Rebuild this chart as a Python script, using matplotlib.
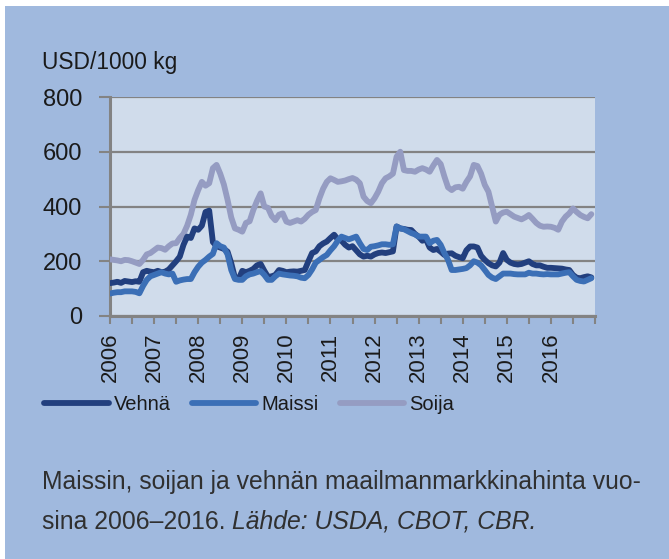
import matplotlib
matplotlib.use("Agg")
import matplotlib.pyplot as plt
from matplotlib.patches import Rectangle
import numpy as np

plt.rcParams['font.family'] = ['Liberation Sans', 'DejaVu Sans']

years = [str(y) for y in range(2006, 2017)]

vehna = [120, 122, 125, 121, 128, 126, 124, 127, 125, 160, 165, 162, 160, 165, 160, 162, 170,
         185, 200, 217, 260, 290, 285, 320, 315, 330, 380, 385, 270, 255, 250, 245, 235, 193,
         140, 135, 165, 160, 165, 172, 185, 190, 165, 143, 145, 150, 168, 165, 160, 162, 163,
         162, 165, 168, 200, 230, 236, 255, 265, 272, 285, 297, 280, 275, 260, 250, 255, 240,
         225, 217, 220, 217, 225, 230, 232, 230, 233, 236, 327, 320, 318, 315, 314, 300, 290,
         275, 280, 250, 241, 245, 235, 223, 228, 229, 220, 215, 211, 240, 254, 254, 250, 220,
         205, 193, 185, 181, 195, 230, 205, 195, 190, 188, 190, 195, 200, 190, 185, 185, 180,
         176, 176, 175, 174, 173, 170, 168, 150, 140, 138, 142, 145, 141]

maissi = [82, 85, 87, 87, 90, 90, 90, 88, 83, 110, 132, 145, 150, 155, 160, 155, 152, 155,
          125, 130, 133, 135, 135, 160, 180, 195, 205, 217, 227, 266, 255, 250, 225, 168, 135,
          132, 132, 145, 152, 155, 160, 164, 150, 132, 132, 145, 155, 152, 150, 148, 147, 145,
          140, 138, 150, 170, 195, 205, 215, 223, 240, 255, 275, 290, 285, 280, 285, 290, 266,
          245, 241, 253, 255, 258, 262, 262, 260, 262, 327, 320, 317, 310, 303, 298, 290, 290,
          290, 266, 275, 278, 260, 230, 205, 168, 168, 170, 172, 175, 185, 200, 195, 185, 168,
          150, 140, 135, 145, 155, 155, 155, 153, 152, 152, 152, 158, 155, 155, 153, 152, 153,
          152, 152, 152, 155, 158, 160, 145, 132, 128, 126, 132, 138]

soija = [207, 205, 203, 200, 205, 204, 200, 195, 190, 205, 225, 230, 240, 250, 248, 242, 255,
         265, 266, 285, 300, 330, 370, 424, 460, 490, 476, 485, 540, 552, 520, 480, 424, 360,
         320, 315, 308, 340, 346, 387, 420, 448, 400, 395, 365, 350, 370, 375, 345, 340, 345,
         350, 345, 355, 370, 380, 387, 430, 465, 490, 503, 497, 490, 492, 495, 500, 504, 498,
         485, 436, 420, 412, 430, 454, 485, 503, 510, 520, 582, 600, 533, 530, 530, 527, 535,
         540, 535, 527, 550, 570, 555, 510, 470, 460, 470, 472, 465, 490, 510, 552, 548, 520,
         479, 454, 400, 345, 370, 378, 381, 372, 363, 358, 353, 360, 369, 355, 340, 330, 326,
         327, 326, 322, 315, 345, 363, 375, 393, 380, 369, 362, 357, 372]

series_names = ['Vehnä', 'Maissi', 'Soija']
colors = ['#223F7E', '#3B6FB6', '#959CC2']

bg = '#A0B9DE'
plot_bg = '#D0DCEB'
grid_c = '#838383'
txt_c = '#1a1a1a'
cap_c = '#303030'

fig = plt.figure(figsize=(6.69, 5.59), dpi=100, facecolor=bg)
fig.patches.append(Rectangle((0, 1 - 6 / 559), 1, 6 / 559, transform=fig.transFigure,
                             facecolor='white', edgecolor='none', zorder=0))
fig.patches.append(Rectangle((0, 0), 5 / 669, 1, transform=fig.transFigure,
                             facecolor='white', edgecolor='none', zorder=0))

ax = fig.add_axes([110 / 669, 1 - 316 / 559, 485 / 669, 219 / 559])
ax.set_facecolor(plot_bg)

x = np.arange(len(vehna))
lw = 4.2
ax.plot(x, soija, color=colors[2], lw=lw, solid_capstyle='round', solid_joinstyle='round',
        label='Soija', zorder=3)
ax.plot(x, vehna, color=colors[0], lw=lw, solid_capstyle='round', solid_joinstyle='round',
        label='Vehnä', zorder=4)
ax.plot(x, maissi, color=colors[1], lw=lw, solid_capstyle='round', solid_joinstyle='round',
        label='Maissi', zorder=5)

ax.set_xlim(0, 132)
ax.set_ylim(0, 800)
ax.set_yticks([0, 200, 400, 600, 800])
ax.yaxis.grid(True, color=grid_c, lw=1.6)
ax.set_axisbelow(True)

ax.set_xticks(np.arange(0, 133, 6))
ax.set_xticklabels([years[i // 2] if i % 2 == 0 and i // 2 < len(years) else '' for i in range(23)],
                   rotation=90, fontsize=16, color=txt_c)
ax.tick_params(axis='x', length=6, width=1.5, color=grid_c, pad=6)
ax.tick_params(axis='y', length=8, width=1.5, color=grid_c, pad=12, labelsize=17, labelcolor=txt_c)

for s in ['top', 'right']:
    ax.spines[s].set_visible(False)
for s in ['left', 'bottom']:
    ax.spines[s].set_color(grid_c)
    ax.spines[s].set_linewidth(2.2)

fig.text(42 / 669, 1 - 62 / 559, 'USD/1000 kg', fontsize=16.4, color=txt_c, va='center', ha='left')

handles, labels = ax.get_legend_handles_labels()
order = [labels.index(n) for n in series_names]
fig.legend([handles[i] for i in order], [labels[i] for i in order],
           loc='center left', bbox_to_anchor=(36 / 669, 1 - 405 / 559), ncol=3, frameon=False,
           fontsize=14.5, handlelength=3.2, handletextpad=0.25, columnspacing=1.05, borderaxespad=0,
           labelcolor=txt_c)

fig.text(42 / 669, 1 - 482 / 559, 'Maissin, soijan ja vehnän maailmanmarkkinahinta vuo-',
         fontsize=17.8, color=cap_c, ha='left', va='center')
t2 = fig.text(42 / 669, 1 - 522 / 559, 'sina 2006–2016. ', fontsize=17.8, color=cap_c,
              ha='left', va='center')
fig.canvas.draw()
bb = t2.get_window_extent()
fig.text(bb.x1 / fig.bbox.width, 1 - 522 / 559, 'Lähde: USDA, CBOT, CBR.', fontsize=17.8,
         color=cap_c, ha='left', va='center', style='italic')

fig.savefig('out.png', dpi=100, facecolor=bg)
